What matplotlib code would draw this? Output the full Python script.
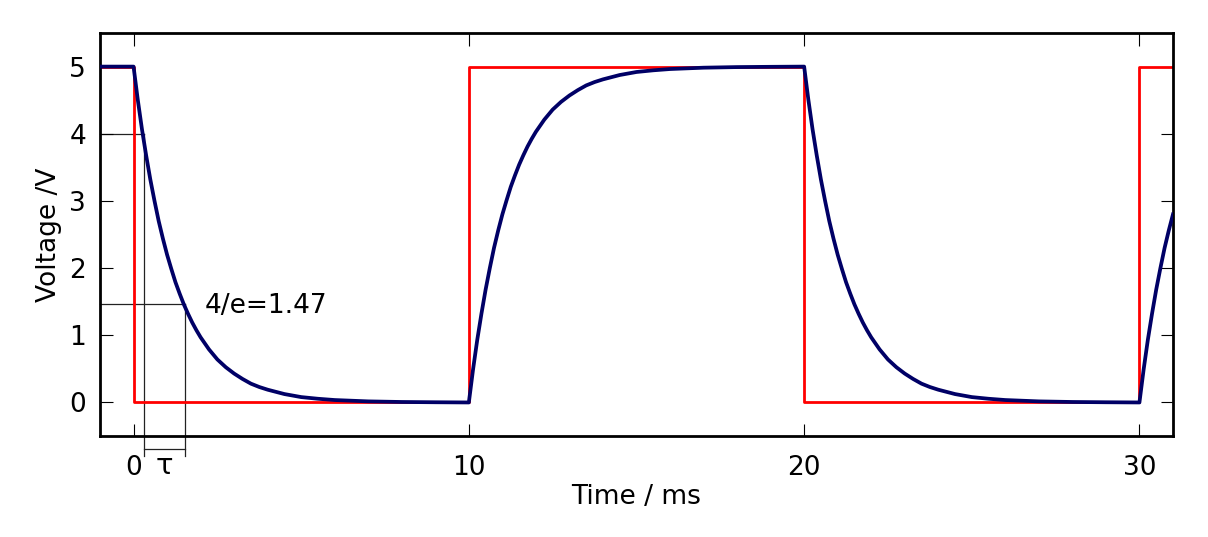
import numpy as np
import matplotlib
matplotlib.use("Agg")
import matplotlib.pyplot as plt

# square wave input (ms, V)
square_t = [-1, 0, 0, 10, 10, 20, 20, 30, 30, 31]
square_v = [5, 5, 0, 0, 5, 5, 0, 0, 5, 5]

# capacitor voltage, time since each edge (ms)
step_t = [0, 0.125, 0.25, 0.375, 0.5, 0.625, 0.75, 0.875, 1.0, 1.125, 1.25,
          1.375, 1.5, 1.625, 1.75, 1.875, 2.0, 2.25, 2.5, 2.75, 3.0, 3.25,
          3.5, 3.75, 4.0, 4.5, 5.0, 5.5, 6.0, 7.0, 8.0, 9.0, 10.0]
decay_v = [5.0, 4.51, 4.07, 3.68, 3.32, 3.00, 2.70, 2.44, 2.20, 1.99, 1.79,
           1.62, 1.46, 1.32, 1.19, 1.075, 0.97, 0.79, 0.64, 0.525, 0.43, 0.35,
           0.28, 0.23, 0.19, 0.125, 0.08, 0.055, 0.036, 0.016, 0.007, 0.003, 0.0]
rise_v = [0.0, 0.49, 0.93, 1.32, 1.68, 2.00, 2.30, 2.56, 2.80, 3.01, 3.21,
          3.38, 3.54, 3.68, 3.81, 3.925, 4.03, 4.21, 4.36, 4.475, 4.57, 4.65,
          4.72, 4.77, 4.81, 4.875, 4.92, 4.945, 4.964, 4.984, 4.993, 4.997, 5.0]
edges = [0, 10, 20, 30]

# tau markers
tau_start, tau_end = 0.31, 1.52
v_start, v_end = 4.0, 1.47

plt.rcParams['font.family'] = 'DejaVu Sans'
fig = plt.figure(figsize=(12.08, 5.37), dpi=100)
ax = fig.add_axes([0.0828, 0.188, 0.8882, 0.7505])

# build the response curve segment by segment
curve_t = [-1.0]
curve_v = [5.0]
for i, e in enumerate(edges):
    vals = decay_v if i % 2 == 0 else rise_v
    for dt, v in zip(step_t, vals):
        t = e + dt
        if t > 31:
            break
        curve_t.append(t)
        curve_v.append(v)

ax.plot(square_t, square_v, color='#ff0000', lw=2.0, zorder=2)
ax.plot(curve_t, curve_v, color='#000066', lw=2.7, zorder=3,
        solid_joinstyle='round')

# tau construction lines
lc = dict(color='#222222', lw=0.9, clip_on=False, zorder=1)
ax.plot([-1, tau_start], [v_start, v_start], **lc)
ax.plot([-1, tau_end], [v_end, v_end], **lc)
ax.plot([tau_start, tau_start], [v_start, -0.79], **lc)
ax.plot([tau_end, tau_end], [v_end, -0.79], **lc)
ax.plot([tau_start, tau_end], [-0.69, -0.69], **lc)
ax.text((tau_start + tau_end) / 2, -0.94, 'τ', fontsize=21, ha='center', va='center')
ax.text(2.12, 1.43, '4/e=1.47', fontsize=19, ha='left', va='center')

ax.set_xlim(-1, 31)
ax.set_ylim(-0.5, 5.5)
ax.set_xticks([0, 10, 20, 30])
ax.set_yticks([0, 1, 2, 3, 4, 5])
ax.tick_params(direction='in', length=9, width=0.8, top=True, right=True,
               labelsize=19)
ax.tick_params(axis='x', pad=14)
ax.tick_params(axis='y', pad=10)
for s in ax.spines.values():
    s.set_linewidth(2)
ax.set_xlabel('Time / ms', fontsize=19, labelpad=2)
ax.set_ylabel('Voltage /V', fontsize=19, labelpad=5)

fig.savefig('out.png', dpi=100)
